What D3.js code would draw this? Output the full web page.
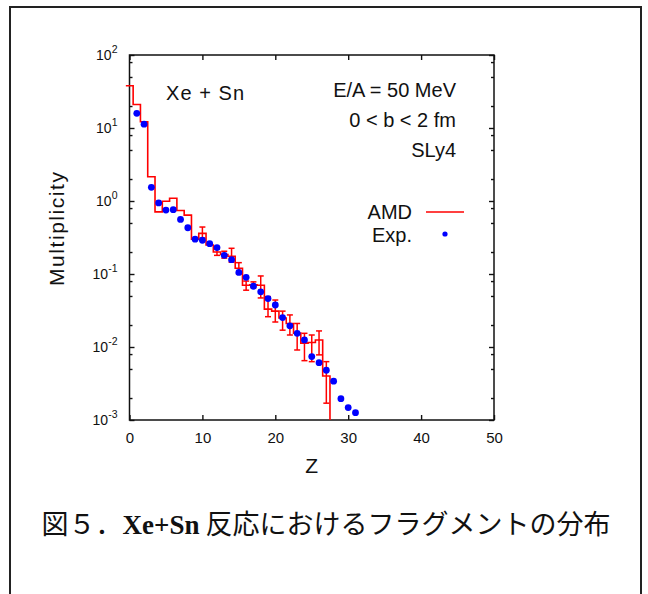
<!DOCTYPE html>
<html>
<head>
<meta charset="utf-8">
<script src="https://cdn.jsdelivr.net/npm/d3@7"></script>
<style>
body { margin: 0; background: #fff; }
text { font-family: "Liberation Sans", Arial, sans-serif; fill: #111; }
</style>
</head>
<body>
<svg id="chart" width="648" height="594"></svg>
<script>
// experimental multiplicity (blue dots)
var expZ = [1, 2, 3, 4, 5, 6, 7, 8, 9, 10, 11, 12, 13, 14, 15, 16, 17, 18, 19, 20,
            21, 22, 23, 24, 25, 26, 27, 28, 29, 30, 31];
var expMult = [15.9, 11.3, 1.54, 0.94, 0.75, 0.76, 0.56, 0.43, 0.30, 0.29, 0.26, 0.23, 0.18, 0.157,
               0.105, 0.090, 0.068, 0.057, 0.046, 0.0376, 0.0253, 0.0195, 0.0154, 0.0125,
               0.0074, 0.0061, 0.0048, 0.0034, 0.00196, 0.00148, 0.00126];

// AMD histogram (red steps)
var amdZ = [0, 1, 2, 3, 4, 5, 6, 7, 8, 9, 10, 11, 12, 13, 14, 15, 16, 17, 18, 19,
            20, 21, 22, 23, 24, 25, 26, 27];
var amdMult = [38, 21, 12.2, 2.15, 0.71, 0.99, 1.09, 0.74, 0.64, 0.30, 0.36, 0.25, 0.20, 0.185,
               0.175, 0.12, 0.07, 0.071, 0.07, 0.033, 0.031, 0.025, 0.021, 0.0155, 0.0113,
               0.0115, 0.0125, 0.004];

// AMD error bars
var errZ  = [10, 12, 13, 14, 15, 16, 17, 18, 19, 20, 21, 22, 23, 24, 25, 26, 27];
var errLo = [0.31, 0.18, 0.165, 0.145, 0.10, 0.06, 0.065, 0.047, 0.026, 0.022, 0.017, 0.0146,
             0.0091, 0.0065, 0.0063, 0.0078, 0.0017];
var errHi = [0.44, 0.22, 0.205, 0.225, 0.143, 0.08, 0.078, 0.094, 0.049, 0.044, 0.031, 0.0275,
             0.021, 0.0154, 0.0146, 0.0166, 0.0063];

var xTicks = [0, 10, 20, 30, 40, 50];
var yMajor = [1e-3, 1e-2, 1e-1, 1, 10, 100];
var yExp = ["-3", "-2", "-1", "0", "1", "2"];
var yMinor = [2e-3, 5e-3, 8e-3, 2e-2, 5e-2, 8e-2, 0.2, 0.5, 0.8, 2, 5, 8, 20, 50, 80];

var plotL = 129.5, plotR = 494, plotT = 55, plotB = 420;

var svg = d3.select('#chart');

// outer frame
svg.append('rect')
    .attr('x', 10).attr('y', 7)
    .attr('width', 631).attr('height', 640)
    .attr('fill', 'none')
    .attr('stroke', '#222')
    .attr('stroke-width', 2);

var x = d3.scaleLinear().domain([0, 50]).range([plotL, plotR]);
var y = d3.scaleLog().domain([1e-3, 1e2]).range([plotB, plotT]);

function styleAxis(g) {
    g.select('.domain').remove();
    g.selectAll('.tick line').attr('stroke', '#111').attr('stroke-width', 1.4);
}

// bottom axis
svg.append('g')
    .attr('transform', 'translate(0,' + plotB + ')')
    .call(d3.axisBottom(x).tickValues(xTicks).tickSizeInner(-5).tickSizeOuter(0)
        .tickPadding(12).tickFormat(d3.format('d')))
    .call(styleAxis)
    .selectAll('text')
    .style('font-size', '15px')
    .attr('fill', '#111');

// top axis
svg.append('g')
    .attr('transform', 'translate(0,' + plotT + ')')
    .call(d3.axisTop(x).tickValues(xTicks).tickSizeInner(-5).tickSizeOuter(0).tickFormat(''))
    .call(styleAxis);

// left / right major + minor
svg.append('g')
    .attr('transform', 'translate(' + plotL + ',0)')
    .call(d3.axisLeft(y).tickValues(yMajor).tickSizeInner(-5).tickSizeOuter(0).tickFormat(''))
    .call(styleAxis);
svg.append('g')
    .attr('transform', 'translate(' + plotL + ',0)')
    .call(d3.axisLeft(y).tickValues(yMinor).tickSizeInner(-3).tickSizeOuter(0).tickFormat(''))
    .call(styleAxis);
svg.append('g')
    .attr('transform', 'translate(' + plotR + ',0)')
    .call(d3.axisRight(y).tickValues(yMajor).tickSizeInner(-5).tickSizeOuter(0).tickFormat(''))
    .call(styleAxis);
svg.append('g')
    .attr('transform', 'translate(' + plotR + ',0)')
    .call(d3.axisRight(y).tickValues(yMinor).tickSizeInner(-3).tickSizeOuter(0).tickFormat(''))
    .call(styleAxis);

// y tick labels 10^n
var yLab = svg.append('g').selectAll('text')
    .data(yMajor)
    .enter()
    .append('text')
    .attr('x', plotL - 12)
    .attr('y', function(d) { return y(d) + 5; })
    .attr('text-anchor', 'end')
    .style('font-size', '14px');
yLab.append('tspan').text('10');
yLab.append('tspan')
    .attr('dy', -7)
    .style('font-size', '10.5px')
    .text(function(d, i) { return yExp[i]; });

// plot frame
svg.append('rect')
    .attr('x', plotL).attr('y', plotT)
    .attr('width', plotR - plotL).attr('height', plotB - plotT)
    .attr('fill', 'none')
    .attr('stroke', '#111')
    .attr('stroke-width', 1.5);

// AMD histeps
var stepPts = amdZ.map(function(z, i) { return [z - 0.5, amdMult[i]]; });
stepPts.push([amdZ[amdZ.length - 1] + 0.5, 1e-3]);

var stepLine = d3.line()
    .x(function(d) { return x(d[0]); })
    .y(function(d) { return y(d[1]); })
    .curve(d3.curveStepAfter);

svg.append('path')
    .datum(stepPts)
    .attr('d', stepLine)
    .attr('fill', 'none')
    .attr('stroke', '#ff0000')
    .attr('stroke-width', 1.6);

// error bars
var bars = svg.append('g').attr('stroke', '#ff0000').attr('stroke-width', 1.5);
errZ.forEach(function(z, i) {
    var cx = x(z);
    bars.append('line').attr('x1', cx).attr('x2', cx).attr('y1', y(errLo[i])).attr('y2', y(errHi[i]));
    bars.append('line').attr('x1', cx - 3).attr('x2', cx + 3).attr('y1', y(errLo[i])).attr('y2', y(errLo[i]));
    bars.append('line').attr('x1', cx - 3).attr('x2', cx + 3).attr('y1', y(errHi[i])).attr('y2', y(errHi[i]));
});

// Exp dots
svg.append('g').selectAll('circle')
    .data(expZ)
    .enter()
    .append('circle')
    .attr('cx', function(d) { return x(d); })
    .attr('cy', function(d, i) { return y(expMult[i]); })
    .attr('r', 3.4)
    .attr('fill', '#0000ff');

// annotations
svg.append('text').attr('x', 166).attr('y', 100).style('font-size', '20px')
    .attr('textLength', 78).attr('lengthAdjust', 'spacing').text('Xe + Sn');
var info = ['E/A = 50 MeV', '0 < b < 2 fm', 'SLy4'];
svg.append('g').selectAll('text')
    .data(info)
    .enter()
    .append('text')
    .attr('x', 456)
    .attr('y', function(d, i) { return 97 + i * 30; })
    .attr('text-anchor', 'end')
    .style('font-size', '20px')
    .text(function(d) { return d; });

// legend
svg.append('text').attr('x', 412).attr('y', 219).attr('text-anchor', 'end').style('font-size', '20px').text('AMD');
svg.append('line').attr('x1', 426).attr('x2', 464).attr('y1', 212).attr('y2', 212)
    .attr('stroke', '#ff0000').attr('stroke-width', 1.6);
svg.append('text').attr('x', 412).attr('y', 242).attr('text-anchor', 'end').style('font-size', '20px').text('Exp.');
svg.append('circle').attr('cx', 445).attr('cy', 234).attr('r', 2.6).attr('fill', '#0000ff');

// axis titles
svg.append('text')
    .attr('x', (plotL + plotR) / 2)
    .attr('y', 473)
    .attr('text-anchor', 'middle')
    .style('font-size', '21px')
    .text('Z');
svg.append('text')
    .attr('transform', 'translate(64,229)rotate(-90)')
    .attr('text-anchor', 'middle')
    .style('font-size', '21px')
    .attr('textLength', 114)
    .attr('lengthAdjust', 'spacing')
    .text('Multiplicity');

// caption
var cap = svg.append('text')
    .attr('x', 326)
    .attr('y', 534)
    .attr('text-anchor', 'middle')
    .style('font-size', '27px')
    .style('font-family', '"Noto Sans CJK JP", sans-serif');
cap.append('tspan').text('図５．');
cap.append('tspan')
    .style('font-family', '"Liberation Serif", "Times New Roman", serif')
    .style('font-weight', 'bold')
    .text('Xe+Sn');
cap.append('tspan').text(' 反応におけるフラグメントの分布');
</script>
</body>
</html>
